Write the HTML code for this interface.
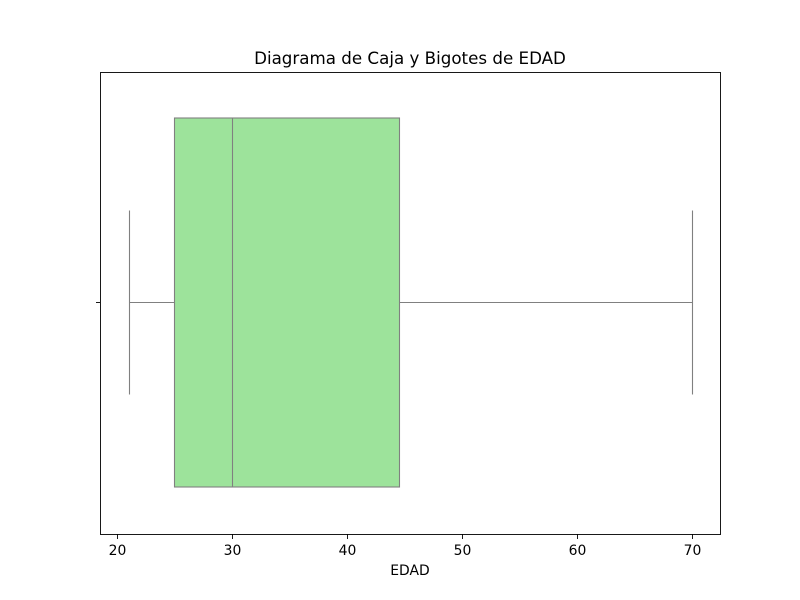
<!DOCTYPE html>
<html><head><meta charset="utf-8"><style>body{margin:0;background:#fff}svg{display:block;font-family:"DejaVu Sans","Liberation Sans",sans-serif}</style></head>
<body>
<svg id="chart" width="800" height="600"></svg>
<script>
const tickValues = [20, 30, 40, 50, 60, 70];
const tickLabels = ["20", "30", "40", "50", "60", "70"];
const whiskerLow = [21];
const q1Values = [25];
const medianValues = [30];
const q3Values = [44.5];
const whiskerHigh = [70];

const svg = document.getElementById('chart');
const NS = 'http://www.w3.org/2000/svg';
const L = 100, R = 720, T = 72, B = 534;
const xmin = 18.52, xmax = 72.45;
const x = v => Math.round(L + (v - xmin) / (xmax - xmin) * (R - L)) + 0.5;
const yc = 302.5, boxH = 369, capH = 184;
function el(tag, attrs, name, text) {
  const e = document.createElementNS(NS, tag);
  for (const k in attrs) e.setAttribute(k, attrs[k]);
  
  
  if (text !== undefined) e.textContent = text;
  svg.appendChild(e);
  return e;
}
const g = '#808080';
const sw = 1.1;
for (let i = 0; i < whiskerLow.length; i++) {
  el('line', {x1: x(whiskerLow[i]), x2: x(q1Values[i]), y1: yc, y2: yc, stroke: g, 'stroke-width': sw}, 'lower-whisker');
  el('line', {x1: x(q3Values[i]), x2: x(whiskerHigh[i]), y1: yc, y2: yc, stroke: g, 'stroke-width': sw}, 'upper-whisker');
  el('line', {x1: x(whiskerLow[i]), x2: x(whiskerLow[i]), y1: yc - capH / 2, y2: yc + capH / 2, stroke: g, 'stroke-width': sw}, 'lower-cap');
  el('line', {x1: x(whiskerHigh[i]), x2: x(whiskerHigh[i]), y1: yc - capH / 2, y2: yc + capH / 2, stroke: g, 'stroke-width': sw}, 'upper-cap');
  el('rect', {x: x(q1Values[i]), y: yc - boxH / 2, width: x(q3Values[i]) - x(q1Values[i]), height: boxH, fill: '#9de39b', stroke: g, 'stroke-width': sw}, 'iqr-box');
  el('line', {x1: x(medianValues[i]), x2: x(medianValues[i]), y1: yc - boxH / 2, y2: yc + boxH / 2, stroke: g, 'stroke-width': sw}, 'median-line');
}
el('rect', {x: L + 0.5, y: T + 0.5, width: R - L, height: B - T, fill: 'none', stroke: '#000', 'stroke-width': 0.9}, 'plot-frame');
el('line', {x1: L - 4, x2: L, y1: yc, y2: yc, stroke: '#000', 'stroke-width': 0.9}, 'y-tick');
tickValues.forEach((v, i) => {
  el('line', {x1: x(v), x2: x(v), y1: B, y2: B + 5, stroke: '#000', 'stroke-width': 0.9}, 'x-tick');
  el('text', {x: x(v), y: B + 21, 'text-anchor': 'middle', 'font-size': 13.9}, 'x-tick-label', tickLabels[i]);
});
el('text', {x: 410, y: 575, 'text-anchor': 'middle', 'font-size': 13.9}, 'x-axis-title', 'EDAD');
el('text', {x: 410, y: 64, 'text-anchor': 'middle', 'font-size': 16.7}, 'chart-title', 'Diagrama de Caja y Bigotes de EDAD');
</script>
</body></html>
